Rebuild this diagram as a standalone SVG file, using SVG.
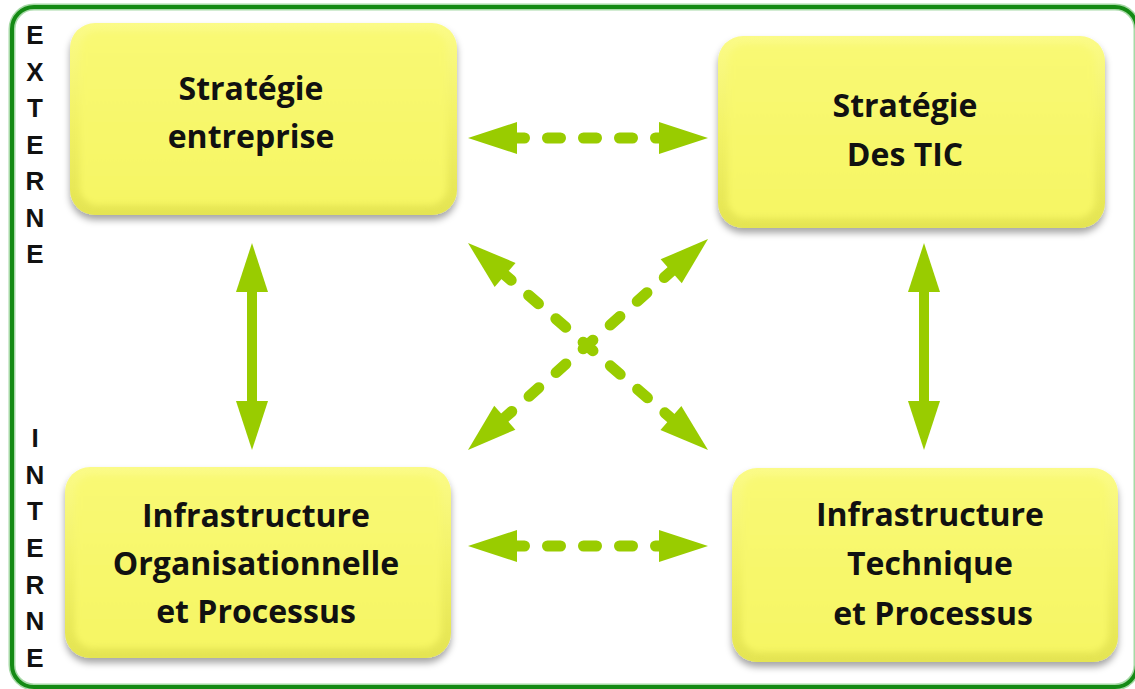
<svg xmlns="http://www.w3.org/2000/svg" xmlns:xlink="http://www.w3.org/1999/xlink" width="1135" height="689" viewBox="0 0 1135 689">
<style>
.lbl{font-family:"Open Sans","Noto Sans","Liberation Sans",sans-serif;font-weight:700;font-size:32px;fill:#111;text-anchor:middle}
.side{font-family:"Liberation Sans",Arial,sans-serif;font-weight:700;font-size:26px;fill:#111;text-anchor:middle}
.dash{fill:none;stroke:#99cc00;stroke-width:11;stroke-linecap:round;stroke-dasharray:13 23}
.solid{fill:none;stroke:#99cc00;stroke-width:10}
.head{fill:#99cc00}
.edge{fill:url(#gEdge)}
.core{fill:url(#gCore);filter:url(#soft)}
</style>
<defs>
<linearGradient id="gEdge" x1="0" y1="0" x2="0" y2="1">
<stop offset="0" stop-color="#fbfb88"/>
<stop offset="0.5" stop-color="#f2f266"/>
<stop offset="1" stop-color="#e4e452"/>
</linearGradient>
<linearGradient id="gCore" x1="0" y1="0" x2="0" y2="1">
<stop offset="0" stop-color="#f9f974"/>
<stop offset="1" stop-color="#f6f664"/>
</linearGradient>
<filter id="shadow" x="-10%" y="-10%" width="120%" height="130%">
<feDropShadow dx="0" dy="5" stdDeviation="3.5" flood-color="#000" flood-opacity="0.35"/>
</filter>
<filter id="soft" x="-10%" y="-10%" width="120%" height="120%">
<feGaussianBlur stdDeviation="3"/>
</filter>
<path id="ah" class="head" d="M0,0 L-49,-16 L-49,16 Z"/>
</defs>

<rect x="12" y="7" width="1125" height="680" rx="22" fill="#ffffff" stroke="#a6d9a6" stroke-width="7"/>
<rect x="12" y="7" width="1125" height="680" rx="22" fill="none" stroke="#148a14" stroke-width="4"/>

<g id="label-externe">
<text class="side" x="35" y="44">E</text>
<text class="side" x="35" y="81">X</text>
<text class="side" x="35" y="117">T</text>
<text class="side" x="35" y="154">E</text>
<text class="side" x="35" y="190">R</text>
<text class="side" x="35" y="227">N</text>
<text class="side" x="35" y="263">E</text>
</g>
<g id="label-interne">
<text class="side" x="35" y="447">I</text>
<text class="side" x="35" y="484">N</text>
<text class="side" x="35" y="520">T</text>
<text class="side" x="35" y="557">E</text>
<text class="side" x="35" y="594">R</text>
<text class="side" x="35" y="630">N</text>
<text class="side" x="35" y="667">E</text>
</g>

<g id="node-strategie-entreprise">
<g filter="url(#shadow)"><rect class="edge" x="70" y="23" width="387" height="192" rx="25"/></g>
<rect class="core" x="80" y="31" width="367" height="174" rx="18"/>
<text class="lbl" x="251" y="100">Stratégie</text>
<text class="lbl" x="251" y="148">entreprise</text>
</g>

<g id="node-strategie-tic">
<g filter="url(#shadow)"><rect class="edge" x="718" y="36" width="387" height="192" rx="25"/></g>
<rect class="core" x="728" y="44" width="367" height="174" rx="18"/>
<text class="lbl" x="905" y="117">Stratégie</text>
<text class="lbl" x="905" y="166">Des TIC</text>
</g>

<g id="node-infra-orga">
<g filter="url(#shadow)"><rect class="edge" x="65" y="467" width="386" height="191" rx="25"/></g>
<rect class="core" x="75" y="475" width="366" height="173" rx="18"/>
<text class="lbl" x="256" y="527">Infrastructure</text>
<text class="lbl" x="256" y="575">Organisationnelle</text>
<text class="lbl" x="256" y="623">et Processus</text>
</g>

<g id="node-infra-tech">
<g filter="url(#shadow)"><rect class="edge" x="732" y="468" width="386" height="194" rx="25"/></g>
<rect class="core" x="742" y="476" width="366" height="176" rx="18"/>
<text class="lbl" x="930" y="526">Infrastructure</text>
<text class="lbl" x="930" y="575">Technique</text>
<text class="lbl" x="933" y="625">et Processus</text>
</g>

<g id="connectors">
<path class="dash" d="M508,138 H668" stroke-dashoffset="-3.5"/>
<use xlink:href="#ah" transform="translate(708,138)"/>
<use xlink:href="#ah" transform="translate(468,138) rotate(180)"/>

<path class="dash" d="M508,546 H668" stroke-dashoffset="-3.5"/>
<use xlink:href="#ah" transform="translate(708,546)"/>
<use xlink:href="#ah" transform="translate(468,546) rotate(180)"/>

<path class="solid" d="M252,285 V408"/>
<use xlink:href="#ah" transform="translate(252,243) rotate(-90)"/>
<use xlink:href="#ah" transform="translate(252,450) rotate(90)"/>

<path class="solid" d="M924,285 V408"/>
<use xlink:href="#ah" transform="translate(924,243) rotate(-90)"/>
<use xlink:href="#ah" transform="translate(924,450) rotate(90)"/>

<path class="dash" d="M496.8,267.8 L679.2,425.2" stroke-dashoffset="30"/>
<use xlink:href="#ah" transform="translate(708,450) rotate(40.78)"/>
<use xlink:href="#ah" transform="translate(468,243) rotate(220.78)"/>

<path class="dash" d="M679.5,264.1 L496.5,424.9" stroke-dashoffset="28.7"/>
<use xlink:href="#ah" transform="translate(468,450) rotate(138.68)"/>
<use xlink:href="#ah" transform="translate(708,239) rotate(-41.32)"/>
</g>
</svg>
